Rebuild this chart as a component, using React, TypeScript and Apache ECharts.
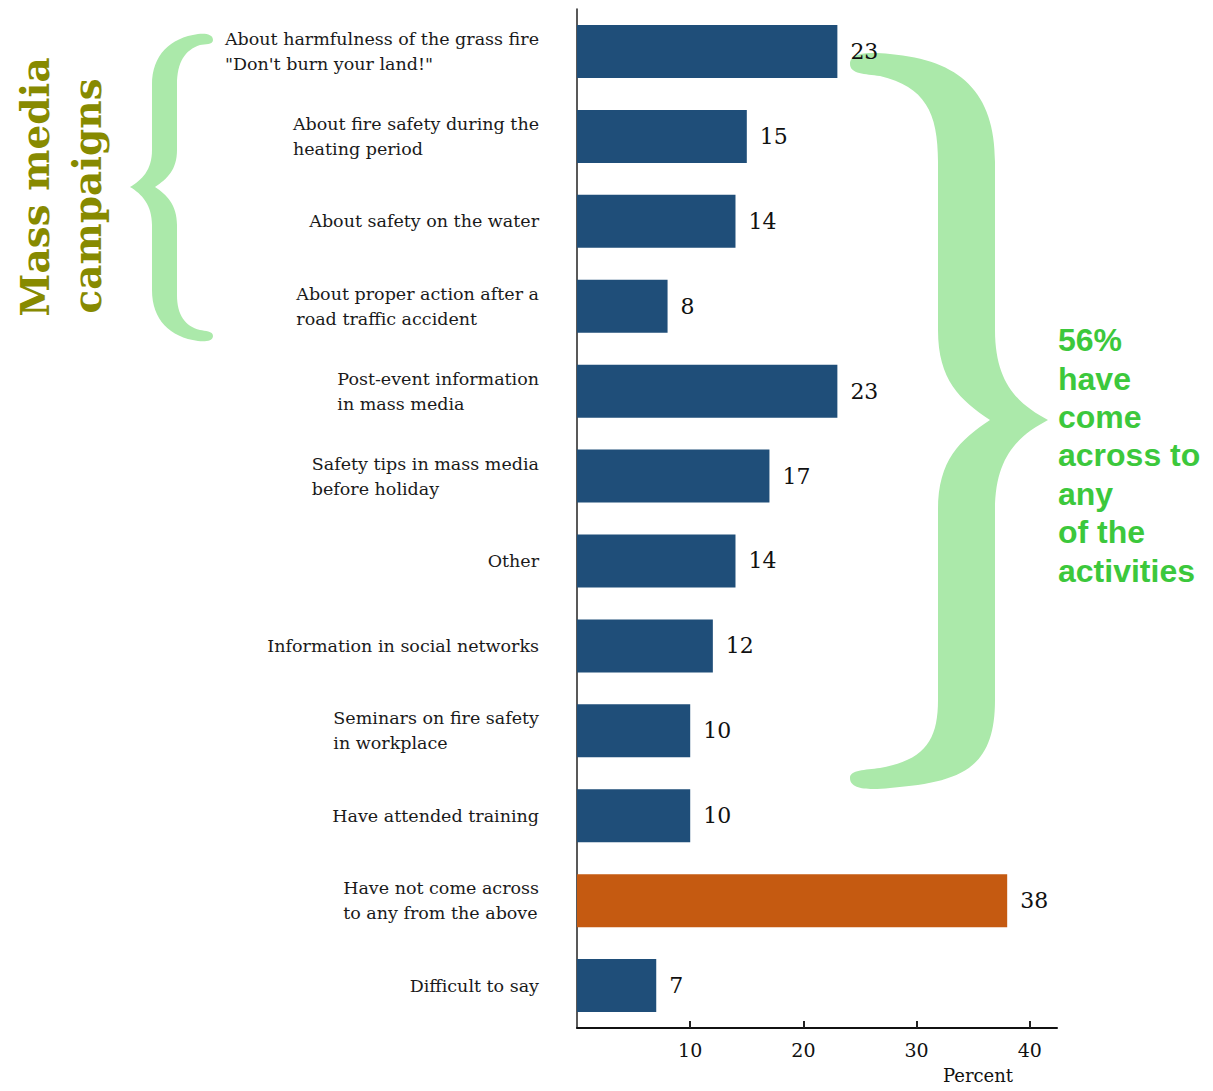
import React, { useEffect, useRef } from "react";
import * as echarts from "echarts";

const categories: string[] = [
  'About harmfulness of the grass fire\n"Don\'t burn your land!"',
  "About fire safety during the\nheating period",
  "About safety on the water",
  "About proper action after a\nroad traffic accident",
  "Post-event information\nin mass media",
  "Safety tips in mass media\nbefore holiday",
  "Other",
  "Information in social networks",
  "Seminars on fire safety\nin workplace",
  "Have attended training",
  "Have not come across\nto any from the above",
  "Difficult to say",
];
const values: number[] = [23, 15, 14, 8, 23, 17, 14, 12, 10, 10, 38, 7];
const highlightCategory = "Have not come across\nto any from the above";
const xTickValues: number[] = [10, 20, 30, 40];
const xAxisTitle = "Percent";
const sideTitleLines: string[] = ["Mass media", "campaigns"];
const annotationLines: string[] = ["56%", "have", "come", "across to", "any", "of the", "activities"];

const BLUE = "#1f4e79";
const ORANGE = "#c55a11";
const BRACE_GREEN = "#abe9aa";
const TEXT_GREEN = "#3cc83c";
const OLIVE = "#878a00";

const RIGHT_BRACE =
  "M 850 64 C 850 52 870 52 890 54 C 960 60 995 92 995 162 L 995 330 C 995 385 1020 405 1048 420 " +
  "C 1020 435 995 455 995 510 L 995 700 C 995 770 960 782 890 788 C 870 790 850 790 850 778 " +
  "C 850 770 865 770 880 768 C 925 760 938 740 938 700 L 938 510 C 938 460 960 440 990 420 " +
  "C 960 400 938 380 938 330 L 938 162 C 938 112 925 87 880 76 C 865 74 850 74 850 64 Z";

const LEFT_BRACE =
  "M 213 40 C 213 34 205 33 198 34 C 170 38 152 55 152 85 L 152 150 C 152 170 142 180 130 187 " +
  "C 142 194 152 205 152 225 L 152 290 C 152 320 170 337 198 341 C 205 342 213 341 213 336 " +
  "C 213 331 205 331 200 330 C 185 326 177 315 177 295 L 177 225 C 177 205 167 195 155 187 " +
  "C 167 179 177 170 177 150 L 177 85 C 177 62 185 50 200 45 C 205 44 213 45 213 40 Z";

echarts.graphic.registerShape("braceRight", echarts.graphic.extendPath(RIGHT_BRACE, {}));
echarts.graphic.registerShape("braceLeft", echarts.graphic.extendPath(LEFT_BRACE, {}));

export default function App() {
  const ref = useRef<HTMLDivElement | null>(null);

  useEffect(() => {
    if (!ref.current) return;
    const chart = echarts.init(ref.current, null, { renderer: "svg" });
    const serif = "DejaVu Serif";

    const option: any = {
      animation: false,
      backgroundColor: "#ffffff",
      grid: { left: 577, top: 9, width: 480, height: 1019, containLabel: false },
      xAxis: {
        type: "value",
        min: 0,
        max: 42.4,
        interval: 10,
        axisLine: { show: true, onZero: false, lineStyle: { color: "#111", width: 2 } },
        splitLine: { show: false },
        axisTick: {
          show: true,
          inside: true,
          length: 7,
          customValues: xTickValues,
          lineStyle: { color: "#222", width: 2 },
        },
        axisLabel: {
          customValues: xTickValues,
          margin: 12,
          fontSize: 19,
          fontFamily: serif,
          color: "#111",
        },
      },
      yAxis: {
        type: "category",
        data: categories,
        inverse: true,
        axisLine: { show: true, lineStyle: { color: "#222", width: 1.5 } },
        axisTick: { show: false },
        axisLabel: {
          margin: 38,
          align: "right",
          formatter: (v: string) =>
            v
              .split("\n")
              .map((l) => `{l|${l}}`)
              .join("\n"),
          rich: {
            l: {
              align: "left",
              fontSize: 17.5,
              fontFamily: serif,
              color: "#1a1a1a",
              lineHeight: 25,
            },
          },
        },
      },
      series: [
        {
          type: "bar",
          barWidth: 53,
          data: values.map((v, i) => ({
            value: v,
            itemStyle: { color: categories[i] === highlightCategory ? ORANGE : BLUE },
          })),
          label: {
            show: true,
            position: "right",
            distance: 13,
            color: "#111",
            fontSize: 22,
            fontFamily: serif,
          },
        },
      ],
      graphic: [
        { type: "braceLeft", x: 0, y: 0, silent: true, style: { fill: BRACE_GREEN } },
        { type: "braceRight", x: 0, y: 0, silent: true, style: { fill: BRACE_GREEN } },
        {
          type: "text",
          x: 35,
          y: 187,
          rotation: Math.PI / 2,
          silent: true,
          style: {
            text: sideTitleLines[0],
            fill: OLIVE,
            fontSize: 39,
            fontWeight: "bold",
            fontFamily: serif,
            align: "center",
            verticalAlign: "middle",
          },
        },
        {
          type: "text",
          x: 87,
          y: 196,
          rotation: Math.PI / 2,
          silent: true,
          style: {
            text: sideTitleLines[1],
            fill: OLIVE,
            fontSize: 39,
            fontWeight: "bold",
            fontFamily: serif,
            align: "center",
            verticalAlign: "middle",
          },
        },
        {
          type: "text",
          x: 1058,
          y: 321,
          silent: true,
          style: {
            text: annotationLines.join("\n"),
            fill: TEXT_GREEN,
            fontSize: 32,
            fontWeight: "bold",
            fontFamily: "Liberation Sans",
            lineHeight: 38.4,
            align: "left",
            verticalAlign: "top",
          },
        },
        {
          type: "text",
          x: 978,
          y: 1075,
          silent: true,
          style: {
            text: xAxisTitle,
            fill: "#111",
            fontSize: 18,
            fontFamily: serif,
            align: "center",
            verticalAlign: "middle",
          },
        },
      ],
    };

    chart.setOption(option);
    return () => chart.dispose();
  }, []);

  return (
    <div
      ref={ref}
      style={{ position: "absolute", left: 0, top: 0, width: 1213, height: 1091, background: "#fff" }}
    />
  );
}
